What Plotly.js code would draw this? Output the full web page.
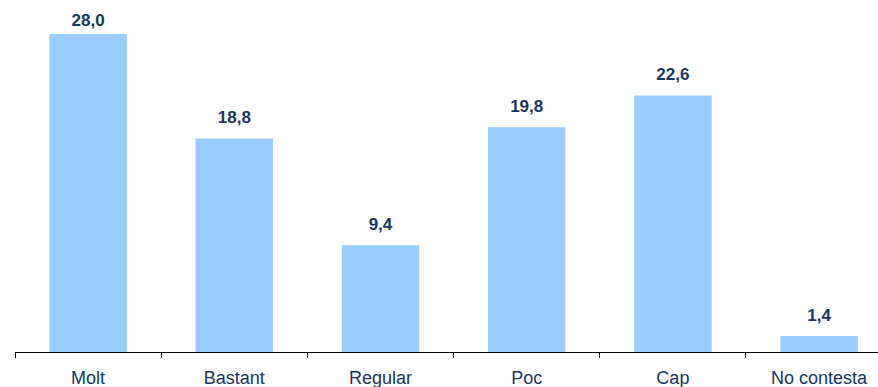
<!DOCTYPE html>
<html>
<head>
<meta charset="utf-8">
<script src="https://cdn.plot.ly/plotly-3.0.1.min.js"></script>
<style>html,body{margin:0;padding:0;background:#fff;}#chart{width:878px;height:387px;}</style>
</head>
<body>
<div id="chart"></div>
<script>
const categories = ["Molt", "Bastant", "Regular", "Poc", "Cap", "No contesta"];
const values = [28.0, 18.8, 9.4, 19.8, 22.6, 1.4];
const labels = values.map(v => v.toFixed(1).replace('.', ','));

const bars = {
  type: 'bar',
  x: categories,
  y: values,
  marker: {color: '#99CCFF', line: {width: 0}},
  width: 0.53,
  hoverinfo: 'none'
};

const valueLabels = {
  type: 'scatter',
  mode: 'markers+text',
  x: categories,
  y: values,
  text: labels,
  texttemplate: '<b>%{text}</b>',
  textposition: 'top center',
  cliponaxis: false,
  marker: {size: [4, 16, 16, 16, 16, 16], opacity: 0},
  textfont: {family: 'Liberation Sans, Arial, sans-serif', size: 17, color: '#17375E'},
  hoverinfo: 'none'
};

const layout = {
  width: 878, height: 387,
  margin: {l: 15, r: 0, t: 0, b: 35},
  paper_bgcolor: '#fff', plot_bgcolor: '#fff',
  showlegend: false,
  xaxis: {
    type: 'category',
    range: [-0.5, 5.403],
    showline: true, linecolor: '#000', linewidth: 1,
    ticks: 'outside', tickson: 'boundaries', ticklen: 5, tickcolor: '#000',
    ticklabelstandoff: 9,
    showgrid: false, zeroline: false,
    tickfont: {family: 'Liberation Sans, Arial, sans-serif', size: 18, color: '#17375E'}
  },
  yaxis: {
    range: [0, 31],
    visible: false, showgrid: false, zeroline: false
  }
};

Plotly.newPlot('chart', [bars, valueLabels], layout, {staticPlot: true, displayModeBar: false});
</script>
</body>
</html>
